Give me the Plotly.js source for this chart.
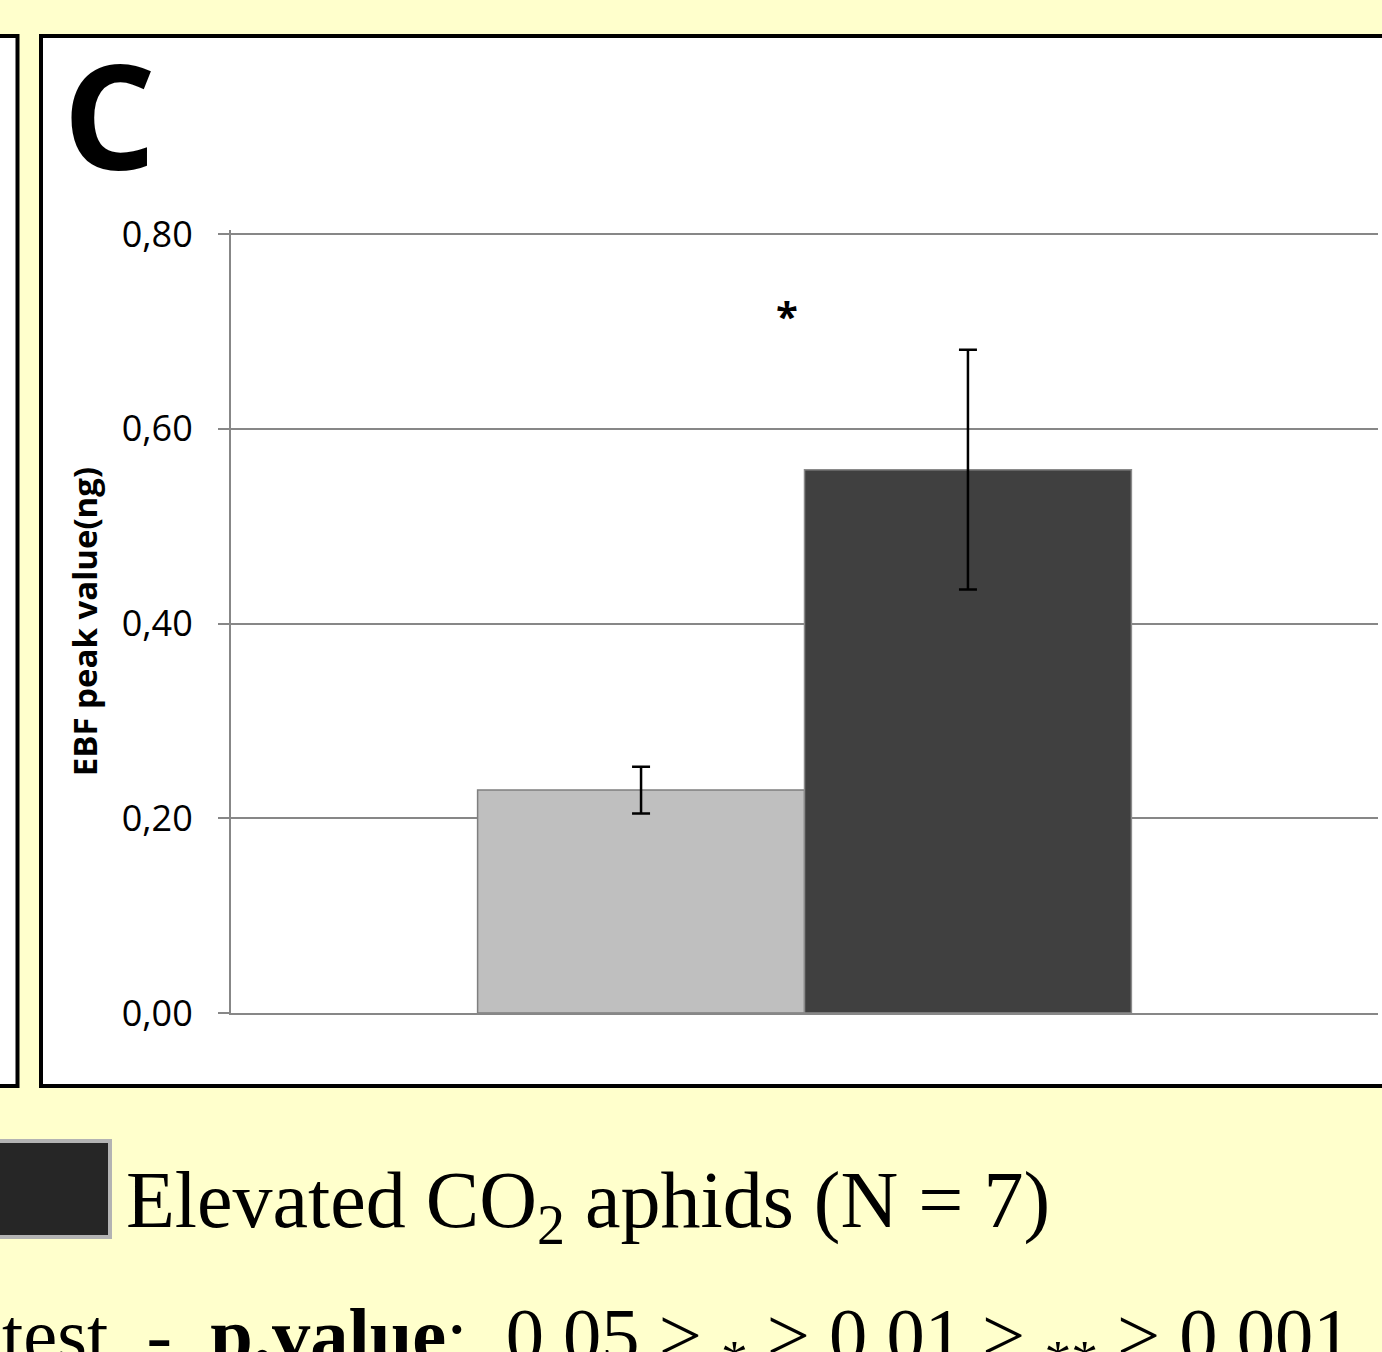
<!DOCTYPE html>
<html>
<head>
<meta charset="utf-8">
<script src="https://cdn.plot.ly/plotly-3.0.1.min.js"></script>
<style>html,body{margin:0;padding:0;background:#FFFFCC;} #chart{width:1382px;height:1352px;}</style>
</head>
<body>
<div id="chart"></div>
<script>
// ---- data ----
const categories = ["EBF"];
const seriesNames = ["Ambient CO₂ aphids", "Elevated CO₂ aphids (N = 7)"];
const ambientValues = [0.229];
const ambientErrors = [0.024];
const elevatedValues = [0.558];
const elevatedErrors = [0.123];
const significance = ["*"];
const significanceY = [0.72];
const yTickValues = [0, 0.2, 0.4, 0.6, 0.8];
const panelLabel = "C";
const yTitle = "EBF peak value(ng)";
const legendLabel = "Elevated CO<sub>2</sub> aphids (N = 7)";
const footnote = "test\u00a0\u00a0-\u00a0\u00a0<b>p.value</b>:\u00a0\u00a00,05 > <sub>*</sub> > 0,01 > <sub>**</sub> > 0,001";

// ---- helpers for pixel -> paper ----
const W = 1382, H = 1352;
const px = v => v / W;
const py = v => 1 - v / H;

const traces = [
  {
    type: "bar", name: seriesNames[0], x: categories, y: ambientValues,
    marker: {color: "#BFBFBF", line: {color: "#7F7F7F", width: 1.5}},
    error_y: {type: "data", array: ambientErrors, visible: true, color: "#000", thickness: 2.5, width: 9},
    showlegend: false, hoverinfo: "y"
  },
  {
    type: "bar", name: seriesNames[1], x: categories, y: elevatedValues,
    marker: {color: "#404040", line: {color: "#8A8A8A", width: 1.5}},
    error_y: {type: "data", array: elevatedErrors, visible: true, color: "#000", thickness: 2.5, width: 9},
    showlegend: false, hoverinfo: "y"
  }
];

const gridGray = "#878787";
const layout = {
  width: W, height: H,
  margin: {l: 0, r: 0, t: 0, b: 0},
  paper_bgcolor: "#FFFFCC",
  plot_bgcolor: "rgba(0,0,0,0)",
  barmode: "group", bargap: 0.43, bargroupgap: 0,
  separators: ",.",
  showlegend: false,
  xaxis: {
    type: "category",
    domain: [px(231), px(1378)],
    range: [-0.5, 0.5],
    showticklabels: false, ticks: "", showgrid: false,
    showline: true, linecolor: gridGray, linewidth: 2,
    zeroline: false, fixedrange: true
  },
  yaxis: {
    domain: [py(1013), py(1013 - 0.804 * 973.75)],
    range: [0, 0.804],
    tickvals: yTickValues, tickformat: ".2f",
    ticks: "outside", ticklen: 11, tickwidth: 2, tickcolor: gridGray,
    ticklabelstandoff: 18,
    tickfont: {family: "Open Sans, sans-serif", size: 36, color: "#000"},
    showgrid: true, gridcolor: gridGray, gridwidth: 2,
    showline: true, linecolor: gridGray, linewidth: 2,
    zeroline: false,
    title: {text: "<b>" + yTitle + "</b>", font: {family: "Open Sans, sans-serif", size: 33, color: "#000"}, standoff: 14},
    fixedrange: true
  },
  shapes: [
    // left neighbouring panel
    {type: "rect", xref: "paper", yref: "paper", layer: "below",
     x0: px(-60), x1: px(17.5), y0: py(36), y1: py(1086),
     fillcolor: "#FFFFFF", line: {color: "#000", width: 4}},
    // main panel
    {type: "rect", xref: "paper", yref: "paper", layer: "below",
     x0: px(41), x1: px(1440), y0: py(36), y1: py(1086),
     fillcolor: "#FFFFFF", line: {color: "#000", width: 4}},
    // legend swatch
    {type: "rect", xref: "paper", yref: "paper", layer: "above",
     x0: px(-10), x1: px(110), y0: py(1141), y1: py(1237),
     fillcolor: "#262626", line: {color: "#B3B3B3", width: 4}}
  ],
  annotations: [
    {xref: "paper", yref: "paper", x: px(61), y: py(113), xanchor: "left", yanchor: "middle",
     text: "<b>" + panelLabel + "</b>", showarrow: false,
     font: {family: "Open Sans, sans-serif", size: 146, color: "#000"}},
    {xref: "x", yref: "y", x: categories[0], y: significanceY[0], xshift: -18, yshift: -4,
     text: "<b>" + significance[0] + "</b>", showarrow: false, yanchor: "middle",
     font: {family: "Open Sans, sans-serif", size: 40, color: "#000"}},
    {xref: "paper", yref: "paper", x: px(124), y: py(1206), xanchor: "left", yanchor: "middle",
     text: legendLabel, showarrow: false,
     font: {family: "Liberation Serif, serif", size: 80, color: "#000"}},
    {xref: "paper", yref: "paper", x: px(0), y: py(1341), xanchor: "left", yanchor: "middle",
     text: footnote, showarrow: false,
     font: {family: "Liberation Serif, serif", size: 76.5, color: "#000"}}
  ]
};

Plotly.newPlot("chart", traces, layout, {displayModeBar: false, staticPlot: true});
</script>
</body>
</html>
